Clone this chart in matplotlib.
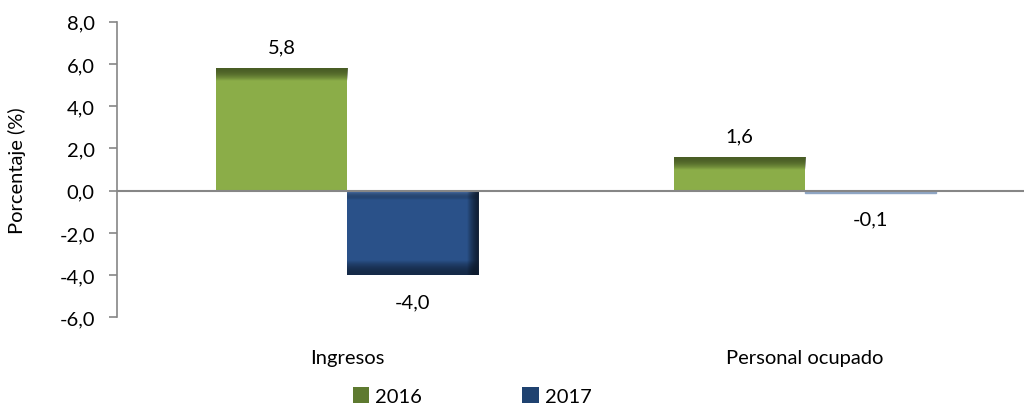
import numpy as np
import matplotlib.pyplot as plt
from matplotlib.colors import LinearSegmentedColormap
from matplotlib.patches import Patch

categorias = ["Ingresos", "Personal ocupado"]
anios = ["2016", "2017"]
valores_2016 = [5.8, 1.6]
valores_2017 = [-4.0, -0.1]
yticks = [-6, -4, -2, 0, 2, 4, 6, 8]

plt.rcParams['font.family'] = ['Lato', 'DejaVu Sans']
plt.rcParams['font.size'] = 14.5

fig = plt.figure(figsize=(10.24, 4.1), dpi=100)
ax = fig.add_axes([117 / 1024, 1 - 318.4 / 410, 1 - 117 / 1024, (318.4 - 22.7) / 410])

x = np.arange(len(categorias))
w = 0.286
verde = "#8BAD48"
azul = "#2A5189"

b1 = ax.bar(x - w / 2, valores_2016, w, color=verde, zorder=2)
b2 = ax.bar(x + w / 2, valores_2017, w, color=azul, zorder=2)

# banda oscura arriba de las barras verdes (bisel)
def banda_superior(bars, oscuro, px=13):
    cmap = LinearSegmentedColormap.from_list("b", [(0, (0, 0, 0, 0)), (1, oscuro)])
    for r in bars:
        x0 = r.get_x()
        top = r.get_y() + r.get_height()
        bot = r.get_y()
        h = px / 21.1
        g = np.linspace(0, 1, 50).reshape(-1, 1)
        im = ax.imshow(g, cmap=cmap, aspect='auto', origin='lower',
                       extent=[x0, x0 + r.get_width(), max(bot, top - h), top], zorder=3)
        im.set_clip_path(r)

banda_superior(b1, "#4A5F25")

for r in b2:
    x0, y0 = r.get_x(), r.get_y()
    x1, y1 = x0 + r.get_width(), y0 + r.get_height()
    lo, hi = min(y0, y1), max(y0, y1)
    if hi - lo > 0.5:
        c1 = LinearSegmentedColormap.from_list("t", [(0, (0, 0, 0, 0)), (1, "#5A88C8")])
        g = np.linspace(0, 1, 50).reshape(-1, 1)
        im = ax.imshow(g, cmap=c1, aspect='auto', origin='lower',
                       extent=[x0, x1, hi - 0.45, hi], zorder=3)
        im.set_clip_path(r)
        c2 = LinearSegmentedColormap.from_list("d", [(0, "#152A48"), (1, (0, 0, 0, 0))])
        im = ax.imshow(g, cmap=c2, aspect='auto', origin='lower',
                       extent=[x0, x1, lo, lo + 0.7], zorder=3)
        im.set_clip_path(r)
        gh = np.linspace(0, 1, 50).reshape(1, -1)
        c3 = LinearSegmentedColormap.from_list("r", [(0, (0, 0, 0, 0)), (1, "#101E33")])
        im = ax.imshow(gh, cmap=c3, aspect='auto', origin='lower',
                       extent=[x1 - 0.025, x1, lo, hi], zorder=4)
        im.set_clip_path(r)
    else:
        r.set_color("#8FA6C4")

for r, v in zip(b1, valores_2016):
    ax.text(r.get_x() + r.get_width() / 2, v + 0.6, f"{v:.1f}".replace(".", ","),
            ha='center', va='bottom')
for r, v in zip(b2, valores_2017):
    ax.text(r.get_x() + r.get_width() / 2, v - 0.85, f"{v:.1f}".replace(".", ","),
            ha='center', va='top')

ax.axhline(0, color="#868686", lw=1.5, zorder=5)
ax.set_ylim(-6, 8)
ax.set_xlim(-0.502, 1.478)
ax.set_yticks(yticks)
ax.set_yticklabels([f"{t:.1f}".replace(".", ",") for t in yticks])
ax.set_xticks(x)
ax.set_xticklabels(categorias)
ax.tick_params(axis='x', length=0, pad=23)
ax.tick_params(axis='y', length=6, color="#868686", width=1.2, pad=10)
ax.set_ylabel("Porcentaje (%)", labelpad=24)
for s in ['top', 'right', 'bottom']:
    ax.spines[s].set_visible(False)
ax.spines['left'].set_color("#868686")
ax.spines['left'].set_linewidth(1.2)

handles = [Patch(facecolor="#5E7A30"), Patch(facecolor="#1F4270")]
fig.legend(handles, anios, loc='center', bbox_to_anchor=(472 / 1024, 1 - 397 / 410),
           ncol=2, frameon=False, handlelength=0.8, handleheight=0.8,
           handletextpad=0.3, columnspacing=5.0)

fig.savefig("out.png", dpi=100)
